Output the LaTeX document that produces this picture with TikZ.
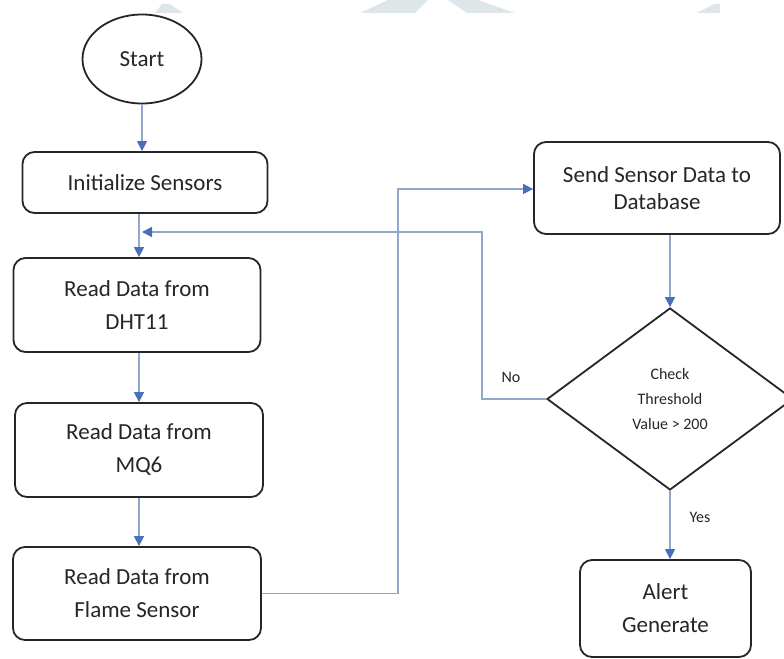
\documentclass[tikz,border=0pt]{standalone}
\usepackage{fontspec}
\setmainfont{Carlito}
\usetikzlibrary{shapes.geometric, arrows.meta}
\definecolor{lineColor}{RGB}{146,166,204}
\definecolor{tipColor}{RGB}{72,112,186}
\definecolor{borderColor}{RGB}{38,38,38}
\definecolor{markColor}{RGB}{222,230,234}
\tikzstyle{canvas} = [x = 1bp, y = -1bp]
\tikzstyle{boxStyle} = [draw=borderColor, fill=white, line width=1.8bp, rounded corners=12bp, align=center, inner sep=0pt, text=borderColor, font=\fontsize{23bp}{33bp}\selectfont]
\tikzstyle{startStyle} = [draw=borderColor, fill=white, line width=1.8bp, ellipse, inner sep=0pt, minimum width=119bp, minimum height=89bp, text=borderColor, font=\fontsize{23bp}{28bp}\selectfont]
\tikzstyle{decisionStyle} = [draw=borderColor, fill=white, line width=1.8bp, diamond, inner sep=0pt, minimum width=246bp, minimum height=182bp, align=center, text=borderColor, font=\fontsize{16bp}{24.5bp}\selectfont]
\tikzstyle{flowLine} = [color=lineColor, line width=1.4bp]
\tikzstyle{flowArrow} = [flowLine, -{Triangle[length=10bp, width=10bp, color=tipColor]}]
\tikzstyle{branchText} = [text=borderColor, font=\fontsize{16bp}{19bp}\selectfont]
\tikzstyle{markStyle} = [fill=markColor, draw=none]

\begin{document}
\begin{tikzpicture}[canvas]
  \useasboundingbox (0,0) rectangle (784,659);
  \clip (0,0) rectangle (784,659);

  % faint marks along the top edge
  \fill [markStyle] (155,13) -- (162,4) -- (170,4) -- (183,13) -- cycle;
  \fill [markStyle] (360,13) -- (388,0) -- (428,0) -- (415,13) -- cycle;
  \fill [markStyle] (448,0) -- (478,0) -- (515,13) -- (467,13) -- cycle;
  \fill [markStyle] (697,13) -- (714,4) -- (720,4) -- (720,13) -- cycle;

  % left column
  \node [startStyle] (start) at (142,59) {Start};
  \node [boxStyle, minimum width=245bp, minimum height=61bp] (initSensors) at (145,182.5) {Initialize Sensors};
  \node [boxStyle, minimum width=247bp, minimum height=94bp] (readDht) at (137,305) {Read Data from\\DHT11};
  \node [boxStyle, minimum width=248bp, minimum height=94bp] (readMq) at (139,450) {Read Data from\\MQ6};
  \node [boxStyle, minimum width=248bp, minimum height=93bp] (readFlame) at (137,593.5) {Read Data from\\Flame Sensor};

  % right column
  \node [boxStyle, minimum width=246bp, minimum height=92bp, font=\fontsize{23bp}{27bp}\selectfont] (sendData) at (657,188) {Send Sensor Data to\\Database};
  \node [decisionStyle] (checkValue) at (670,399) {Check\\Threshold\\Value > 200};
  \node [boxStyle, minimum width=171bp, minimum height=97bp] (alertGen) at (665.5,608.5) {Alert\\Generate};

  \coordinate (leftAxis) at (139,0);
  \coordinate (loopEnd) at (142,232);
  \coordinate (noCorner) at (482,232);
  \coordinate (dataCorner) at (398,189);

  \draw [flowArrow] (start.south) -- (start.south |- initSensors.north);
  \draw [flowArrow] (initSensors.south -| leftAxis) -- (readDht.north -| leftAxis);
  \draw [flowArrow] (readDht.south -| leftAxis) -- (readMq.north -| leftAxis);
  \draw [flowArrow] (readMq.south -| leftAxis) -- (readFlame.north -| leftAxis);

  \draw [flowArrow] (readFlame.east) -| (dataCorner) -- (dataCorner -| sendData.west);
  \draw [flowArrow] (sendData.south -| checkValue.north) -- (checkValue.north);
  \draw [flowArrow] (checkValue.west) -| (noCorner) -- (loopEnd);
  \draw [flowArrow] (checkValue.south) -- (checkValue.south |- alertGen.north);

  \node [branchText] (noLabel) at (511,377) {No};
  \node [branchText] (yesLabel) at (700,517) {Yes};
\end{tikzpicture}
\end{document}
